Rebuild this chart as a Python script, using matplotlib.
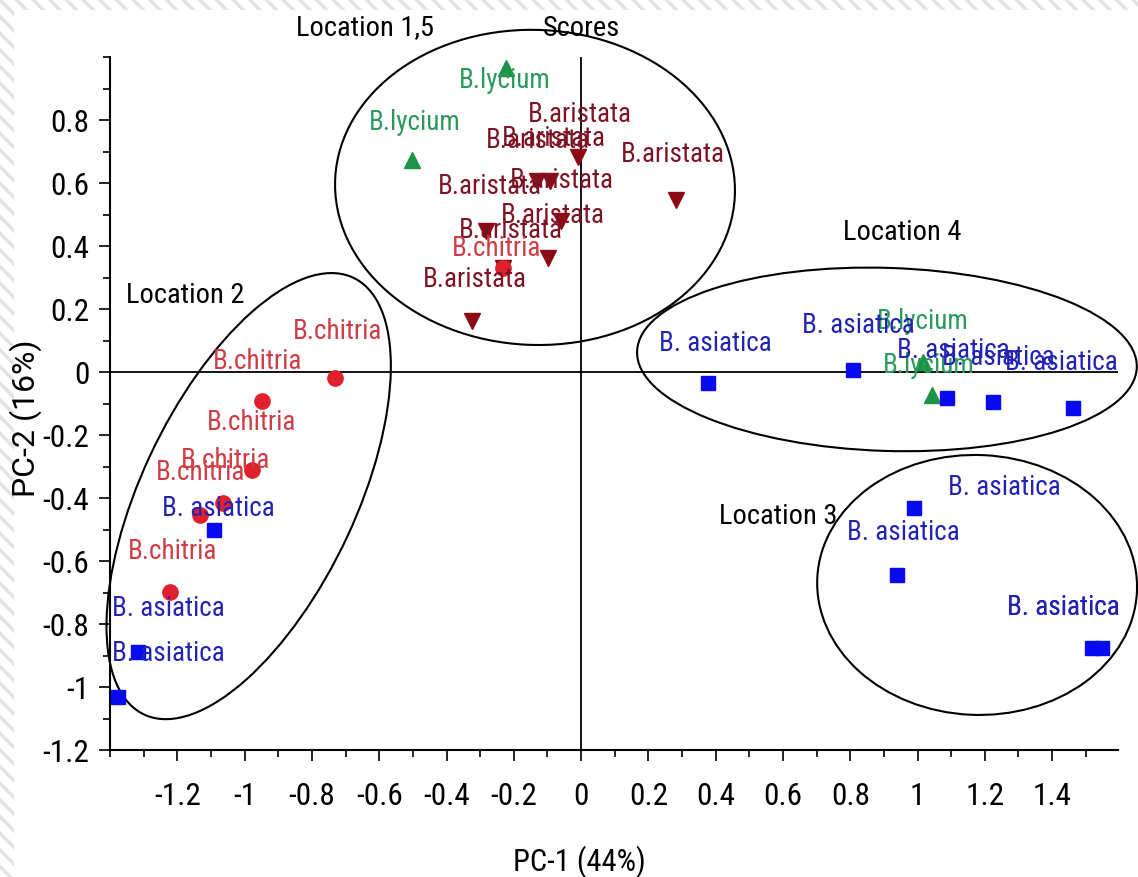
import matplotlib
matplotlib.use("Agg")
import matplotlib.pyplot as plt
from matplotlib.patches import Ellipse, Rectangle
from matplotlib.ticker import MultipleLocator

plt.rcParams['font.family'] = ['Roboto Condensed', 'DejaVu Sans']
plt.rcParams['font.stretch'] = 'condensed'
plt.rcParams['hatch.color'] = '#e3e3e3'
plt.rcParams['hatch.linewidth'] = 2.5

# PCA scores
aristata_x = [-0.009, 0.282, -0.131, -0.092, -0.059, -0.282, -0.098, -0.324, -0.232]
aristata_y = [0.683, 0.546, 0.606, 0.606, 0.479, 0.448, 0.362, 0.162, 0.330]
lycium_x = [-0.502, -0.223, 1.016, 1.043]
lycium_y = [0.673, 0.965, 0.032, -0.073]
chitria_x = [-0.731, -0.948, -0.978, -1.064, -1.132, -1.221, -0.232]
chitria_y = [-0.019, -0.092, -0.311, -0.416, -0.454, -0.698, 0.330]
asiatica_x = [-1.091, -1.317, -1.376, 0.377, 0.808, 1.088, 1.224, 1.462,
              0.990, 0.939, 1.519, 1.548]
asiatica_y = [-0.502, -0.889, -1.032, -0.035, 0.006, -0.083, -0.095, -0.114,
              -0.432, -0.644, -0.876, -0.876]

x_ticks = [-1.2, -1.0, -0.8, -0.6, -0.4, -0.2, 0.0, 0.2, 0.4, 0.6, 0.8, 1.0, 1.2, 1.4]
y_ticks = [-1.2, -1.0, -0.8, -0.6, -0.4, -0.2, 0.0, 0.2, 0.4, 0.6, 0.8]

# label offsets (pixels) from each point
aristata_off = [(2, 42), (-3, 46), (1, 41), (4, 43), (1, 41), (4, 44), (5, 42), (3, 41), (8, 38)]
lycium_off = [(3, 38), (-1, -12), (0, 40), (-3, 30)]
chitria_off = [(2, 46), (-5, 39), (0, 47), (2, 43), (0, 43), (2, 40), (-6, 20)]
asiatica_off = [(4, 22), (30, 44), (50, 44), (7, 40), (5, 45), (6, 48), (5, 44), (-12, 45),
                (90, 21), (6, 42), (-29, 40), (-39, 40)]

fig = plt.figure(figsize=(11.38, 8.77), dpi=100)

# striped page background showing at the top and left edges
fig.add_artist(Rectangle((0, 0), 1, 1, transform=fig.transFigure, facecolor="white",
                         edgecolor="#e3e3e3", linewidth=0, hatch="\\\\", zorder=-3))
fig.add_artist(Rectangle((14 / 1138, 0), 1, 1 - 10 / 877, transform=fig.transFigure,
                         facecolor="white", linewidth=0, zorder=-2))

ax = fig.add_axes([0.0967, 0.1448, 0.8858, 0.7902])
ax.patch.set_alpha(0)

groups = [
    ("B.aristata", aristata_x, aristata_y, aristata_off, "v", "#8c0a16", "#7c1424"),
    ("B.lycium", lycium_x, lycium_y, lycium_off, "^", "#1b9448", "#2a9a5c"),
    ("B.chitria", chitria_x, chitria_y, chitria_off, "o", "#e0202a", "#cf3c44"),
    ("B. asiatica", asiatica_x, asiatica_y, asiatica_off, "s", "#0a0af0", "#2222b4"),
]
for name, xs, ys, offs, mk, mc, tc in groups:
    ms = 10.5 if mk == "s" else 11
    ax.plot(xs, ys, linestyle="none", marker=mk, markersize=ms, color=mc, zorder=3)
    for x, y, (dx, dy) in zip(xs, ys, offs):
        ax.annotate(name, (x, y), xytext=(dx, dy), textcoords="offset pixels",
                    ha="center", va="center", fontsize=19.5, color=tc, zorder=4)

# group ellipses
for cx, cy, w, h, ang in [(-0.137, 0.586, 1.189, 1.0, -3),
                          (-0.988, -0.394, 1.52, 0.64, 66.4),
                          (0.909, 0.040, 1.486, 0.581, -2),
                          (1.177, -0.676, 0.951, 0.825, -3)]:
    ax.add_patch(Ellipse((cx, cy), w, h, angle=ang, fill=False, edgecolor="black",
                         linewidth=1.5, clip_on=False, zorder=2))

ax.axhline(0, color="black", linewidth=1.3, zorder=1)
ax.axvline(0, color="black", linewidth=1.3, zorder=1)

ax.text(0, 1.092, "Scores", ha="center", va="center", fontsize=20.5)
ax.text(-0.642, 1.092, "Location 1,5", ha="center", va="center", fontsize=20.5)
ax.text(0.954, 0.444, "Location 4", ha="center", va="center", fontsize=20.5)
ax.text(-1.177, 0.244, "Location 2", ha="center", va="center", fontsize=20.5)
ax.text(0.585, -0.460, "Location 3", ha="center", va="center", fontsize=20.5)

ax.set_xlim(-1.40, 1.596)
ax.set_ylim(-1.2, 1.0)
ax.set_xticks(x_ticks)
ax.set_xticklabels([f"{v:g}" for v in x_ticks])
ax.set_yticks(y_ticks)
ax.set_yticklabels([f"{v:g}" for v in y_ticks])
ax.xaxis.set_minor_locator(MultipleLocator(0.1))
ax.yaxis.set_minor_locator(MultipleLocator(0.1))
ax.tick_params(which="both", direction="out", width=1.2, labelsize=22.5)
ax.tick_params(which="major", length=8)
ax.tick_params(which="minor", length=5)
ax.tick_params(axis="x", pad=15)
ax.tick_params(axis="y", pad=7)

for s in ["top", "right"]:
    ax.spines[s].set_visible(False)
for s in ["left", "bottom"]:
    ax.spines[s].set_linewidth(1.5)

ax.set_xlabel("PC-1 (44%)", fontsize=22)
ax.set_ylabel("PC-2 (16%)", fontsize=23, family=["Roboto", "DejaVu Sans"], fontstretch="normal")
ax.xaxis.set_label_coords(0.466, -0.137)
ax.yaxis.set_label_coords(-0.0675, 0.479)

fig.savefig("out.png", dpi=100)
